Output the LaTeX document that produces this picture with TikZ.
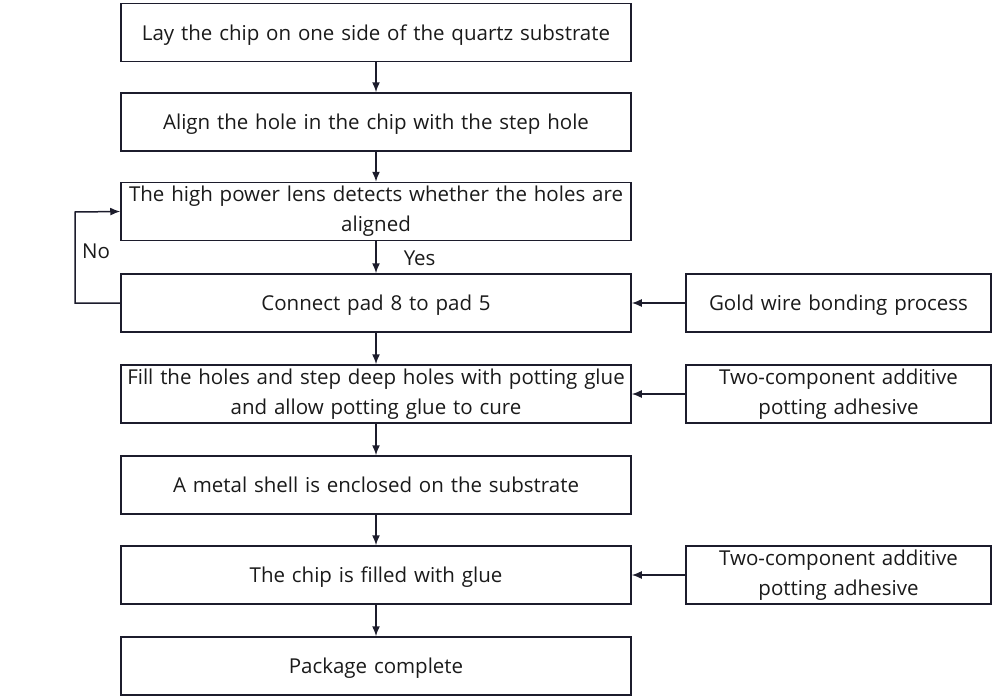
\documentclass[tikz,border=0pt]{standalone}
\usepackage{fontspec}
\setmainfont{Open Sans}
\usetikzlibrary{arrows.meta}
\definecolor{ln}{HTML}{1C1C2C}
\definecolor{tx}{HTML}{1A1A1A}
\begin{document}
\begin{tikzpicture}[x=1pt,y=-1pt,
  every node/.style={font=\fontsize{20.5}{30}\selectfont, text=tx},
  mainbox/.style={draw=ln, line width=1.5pt, minimum width=510pt, minimum height=58pt, align=center, inner sep=2pt, text width=505pt},
  sidebox/.style={draw=ln, line width=1.5pt, minimum width=305pt, minimum height=58pt, align=center, inner sep=2pt, text width=300pt},
  oneline/.style={text depth=0pt},
  conn/.style={draw=ln, line width=1.5pt, -{Latex[length=10pt,width=8pt]}}]
\useasboundingbox (0,0) rectangle (993,696);
\node[mainbox, oneline] (b1) at (376,32.5) {Lay the chip on one side of the quartz substrate};
\node[mainbox, oneline] (b2) at (376,122) {Align the hole in the chip with the step hole};
\node[mainbox] (b3) at (376,211.5) {The high power lens detects whether the holes are\\aligned};
\node[mainbox, oneline] (b4) at (376,303) {Connect pad 8 to pad 5};
\node[mainbox] (b5) at (376,394) {Fill the holes and step deep holes with potting glue\\and allow potting glue to cure};
\node[mainbox, oneline] (b6) at (376,485) {A metal shell is enclosed on the substrate};
\node[mainbox, oneline] (b7) at (376,575) {The chip is filled with glue};
\node[mainbox, oneline] (b8) at (376,666) {Package complete};
\node[sidebox, oneline] (s1) at (838.5,303) {Gold wire bonding process};
\node[sidebox] (s2) at (838.5,394) {Two-component additive\\potting adhesive};
\node[sidebox] (s3) at (838.5,575) {Two-component additive\\potting adhesive};
\coordinate (lb) at (75,303);
\coordinate (lt) at (75,212);
\draw[conn] (b1) -- (b2);
\draw[conn] (b2) -- (b3);
\draw[conn] (b3) -- node[right, xshift=27pt, yshift=-1pt, inner sep=0pt] (yes) {Yes} (b4);
\draw[conn] (b4) -- (b5);
\draw[conn] (b5) -- (b6);
\draw[conn] (b6) -- (b7);
\draw[conn] (b7) -- (b8);
\draw[conn] (b4.west) -- (lb) -- (lt) -- (b3.west);
\node (no) at (96,251) {No};
\draw[conn] (s1) -- (b4);
\draw[conn] (s2) -- (b5);
\draw[conn] (s3) -- (b7);
\end{tikzpicture}
\end{document}
